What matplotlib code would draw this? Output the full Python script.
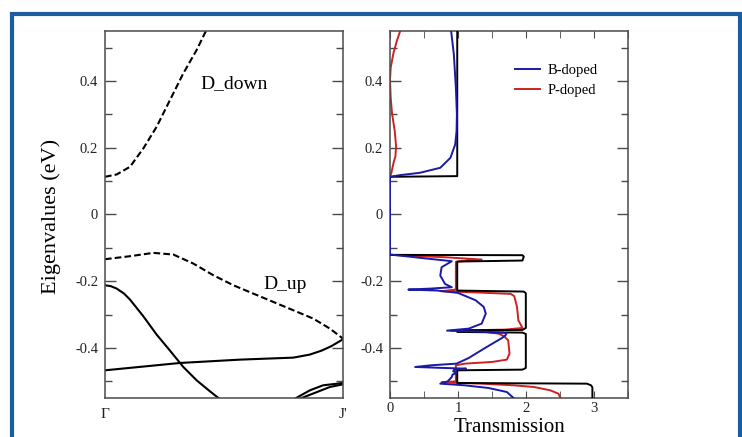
# -*- coding: utf-8 -*-
"""
Band structure (left) and transmission (right) for B- and P-doped ribbons
"""

import matplotlib
matplotlib.use("Agg")
import matplotlib.pyplot as plt
import matplotlib.patches as pcs
from matplotlib.ticker import MultipleLocator

plt.rcParams['font.family'] = ['Liberation Serif', 'DejaVu Serif']

# ---------------------------------------------------------------- data
# bands along Gamma -> J' (k in [0, 1])
d_down_k = [0.0, 0.049, 0.105, 0.161, 0.217, 0.273, 0.329, 0.385, 0.424]
d_down_e = [0.113, 0.120, 0.143, 0.198, 0.263, 0.343, 0.423, 0.493, 0.55]

d_up_k = [0.0, 0.105, 0.203, 0.287, 0.371, 0.455, 0.539, 0.623, 0.707, 0.791, 0.875, 0.945, 1.0]
d_up_e = [-0.134, -0.125, -0.115, -0.120, -0.147, -0.182, -0.212, -0.237, -0.262, -0.287,
          -0.312, -0.342, -0.372]

band1_k = [0.0, 0.025, 0.049, 0.080, 0.105, 0.161, 0.217, 0.273, 0.329, 0.385, 0.441, 0.48]
band1_e = [-0.212, -0.215, -0.222, -0.237, -0.255, -0.305, -0.360, -0.408, -0.457, -0.497,
           -0.530, -0.552]

band2_k = [0.0, 0.315, 0.567, 0.791, 0.860, 0.910, 0.950, 1.0]
band2_e = [-0.467, -0.445, -0.435, -0.429, -0.420, -0.408, -0.395, -0.374]

band3_k = [0.798, 0.861, 0.916, 1.0]
band3_e = [-0.552, -0.527, -0.512, -0.505]

band4_k = [0.819, 0.891, 0.945, 1.0]
band4_e = [-0.552, -0.532, -0.517, -0.509]

# transmission T(E)
pristine_e = [0.55, 0.115, 0.113, -0.121, -0.122, -0.126, -0.138, -0.141, -0.228, -0.231,
              -0.236, -0.340, -0.346, -0.347, -0.352, -0.354, -0.358, -0.460, -0.465,
              -0.467, -0.505, -0.507, -0.512, -0.518, -0.55]
pristine_t = [0.99, 0.99, 0.0, 0.0, 1.95, 1.97, 1.95, 0.99, 0.99, 1.97,
              2.0, 2.0, 1.95, 0.99, 0.99, 1.95, 2.0, 2.0, 1.95,
              0.99, 0.99, 2.9, 2.96, 2.98, 2.98]

b_doped_e = [0.55, 0.48, 0.38, 0.30, 0.25, 0.21, 0.17, 0.14, 0.125, 0.118, 0.113,
             -0.120, -0.130, -0.140, -0.158, -0.183, -0.208, -0.218, -0.222, -0.225,
             -0.228, -0.235, -0.257, -0.277, -0.297, -0.327, -0.342, -0.348, -0.351,
             -0.355, -0.362, -0.370, -0.40, -0.43, -0.447, -0.452, -0.457, -0.460,
             -0.462, -0.465, -0.470, -0.475, -0.480, -0.487, -0.500, -0.507, -0.512,
             -0.520, -0.532, -0.55]
b_doped_t = [0.90, 0.94, 0.97, 0.985, 0.98, 0.96, 0.89, 0.74, 0.44, 0.15, 0.0,
             0.0, 0.45, 0.91, 0.76, 0.74, 0.81, 0.91, 0.60, 0.27,
             0.70, 1.00, 1.26, 1.38, 1.41, 1.35, 1.16, 0.84, 1.30,
             1.72, 1.70, 1.65, 1.40, 1.16, 0.98, 0.60, 0.37, 0.80,
             1.12, 0.95, 0.93, 0.98, 0.92, 0.91, 0.85, 0.74, 1.10,
             1.45, 1.72, 1.82]

p_doped_e = [0.55, 0.52, 0.483, 0.44, 0.403, 0.35, 0.303, 0.25, 0.203, 0.175, 0.153,
             0.125, 0.113, -0.121, -0.128, -0.135, -0.139, -0.142, -0.225, -0.230,
             -0.233, -0.238, -0.245, -0.277, -0.317, -0.340, -0.345, -0.348, -0.352,
             -0.357, -0.365, -0.377, -0.417, -0.435, -0.442, -0.447, -0.452, -0.500,
             -0.503, -0.507, -0.512, -0.517, -0.527, -0.537, -0.55]
p_doped_t = [0.15, 0.10, 0.05, 0.01, 0.0, 0.01, 0.03, 0.07, 0.09, 0.08, 0.05,
             0.02, 0.0, 0.0, 0.80, 1.35, 1.10, 0.97, 0.97, 0.75,
             1.20, 1.78, 1.83, 1.87, 1.89, 1.95, 1.70, 0.90, 1.40,
             1.60, 1.68, 1.74, 1.76, 1.72, 1.50, 1.10, 0.97, 0.97,
             0.76, 1.35, 1.82, 2.12, 2.36, 2.48, 2.51]

# ---------------------------------------------------------------- style
W, H = 742, 437
spine_color = '#4a4a4a'
blue = '#1a1aa6'
red = '#cc2222'
dash = (0, (3.2, 1.5))


def style_axis(ax):
    for s in ax.spines.values():
        s.set_color(spine_color)
        s.set_linewidth(1.1)
    ax.yaxis.set_major_locator(MultipleLocator(0.2))
    ax.yaxis.set_minor_locator(MultipleLocator(0.1))
    ax.tick_params(axis='y', which='both', direction='in', left=True, right=True,
                   color=spine_color, labelsize=10.5, labelcolor='#222222', width=1.0, pad=5)
    ax.tick_params(axis='y', which='major', length=8)
    ax.tick_params(axis='y', which='minor', length=5)
    ax.set_ylim(-0.55, 0.55)
    ax.yaxis.set_major_formatter(plt.FuncFormatter(lambda v, p: "%g" % round(v, 2)))


fig = plt.figure(figsize=(W / 100, H / 100), dpi=100)

# left: bands
ax1 = fig.add_axes([105 / W, 1 - 398 / H, 238 / W, 367 / H])
style_axis(ax1)
ax1.plot(d_down_k, d_down_e, color='k', lw=1.5, ls=dash)
ax1.plot(d_up_k, d_up_e, color='k', lw=1.5, ls=dash)
for k, e in [(band1_k, band1_e), (band2_k, band2_e), (band3_k, band3_e), (band4_k, band4_e)]:
    ax1.plot(k, e, color='k', lw=1.5)
ax1.set_xlim(0, 1)
ax1.set_xticks([0, 1])
ax1.set_xticklabels(['Γ', "J'"])
ax1.tick_params(axis='x', length=0, labelsize=11, pad=7, labelcolor='#222222')
ax1.text(0.40, 0.38, 'D_down', fontsize=14)
ax1.text(0.664, -0.222, 'D_up', fontsize=14)

# right: transmission
ax2 = fig.add_axes([390 / W, 1 - 398 / H, 237.7 / W, 367 / H])
style_axis(ax2)
ax2.plot(p_doped_t, p_doped_e, color=red, lw=1.4, zorder=2, label='P-doped')
ax2.plot(pristine_t, pristine_e, color='k', lw=1.4, zorder=3)
ax2.plot(b_doped_t, b_doped_e, color=blue, lw=1.4, zorder=4, label='B-doped')
ax2.set_xlim(0, 3.5)
ax2.xaxis.set_major_locator(MultipleLocator(1))
ax2.xaxis.set_minor_locator(MultipleLocator(0.5))
ax2.tick_params(axis='x', which='both', direction='in', top=True, bottom=True,
                length=5, color=spine_color, labelsize=10.5, labelcolor='#222222', pad=3)
h, l = ax2.get_legend_handles_labels()
ax2.legend(h[::-1], l[::-1], loc='upper left', bbox_to_anchor=((515 - 390) / 237.7, (398 - 64) / 367),
           frameon=False, fontsize=10.5, handlelength=1.7, handletextpad=0.55,
           labelspacing=0.45, borderpad=0, borderaxespad=0)

fig.text(51 / W, 1 - 216 / H, 'Eigenvalues (eV)', rotation=90, ha='center', va='center', fontsize=16)
fig.text(509 / W, 1 - 432.5 / H, 'Transmission', ha='center', va='baseline', fontsize=15)

# blue frame round the figure
frame = pcs.Rectangle((12.5 / W, -0.1), (739.5 - 12.5) / W, 1.1 - 13.5 / H,
                      transform=fig.transFigure, fill=False, edgecolor='#1d5c9e',
                      linewidth=3.0, clip_on=False)
fig.patches.append(frame)

fig.savefig('out.png', dpi=100)
